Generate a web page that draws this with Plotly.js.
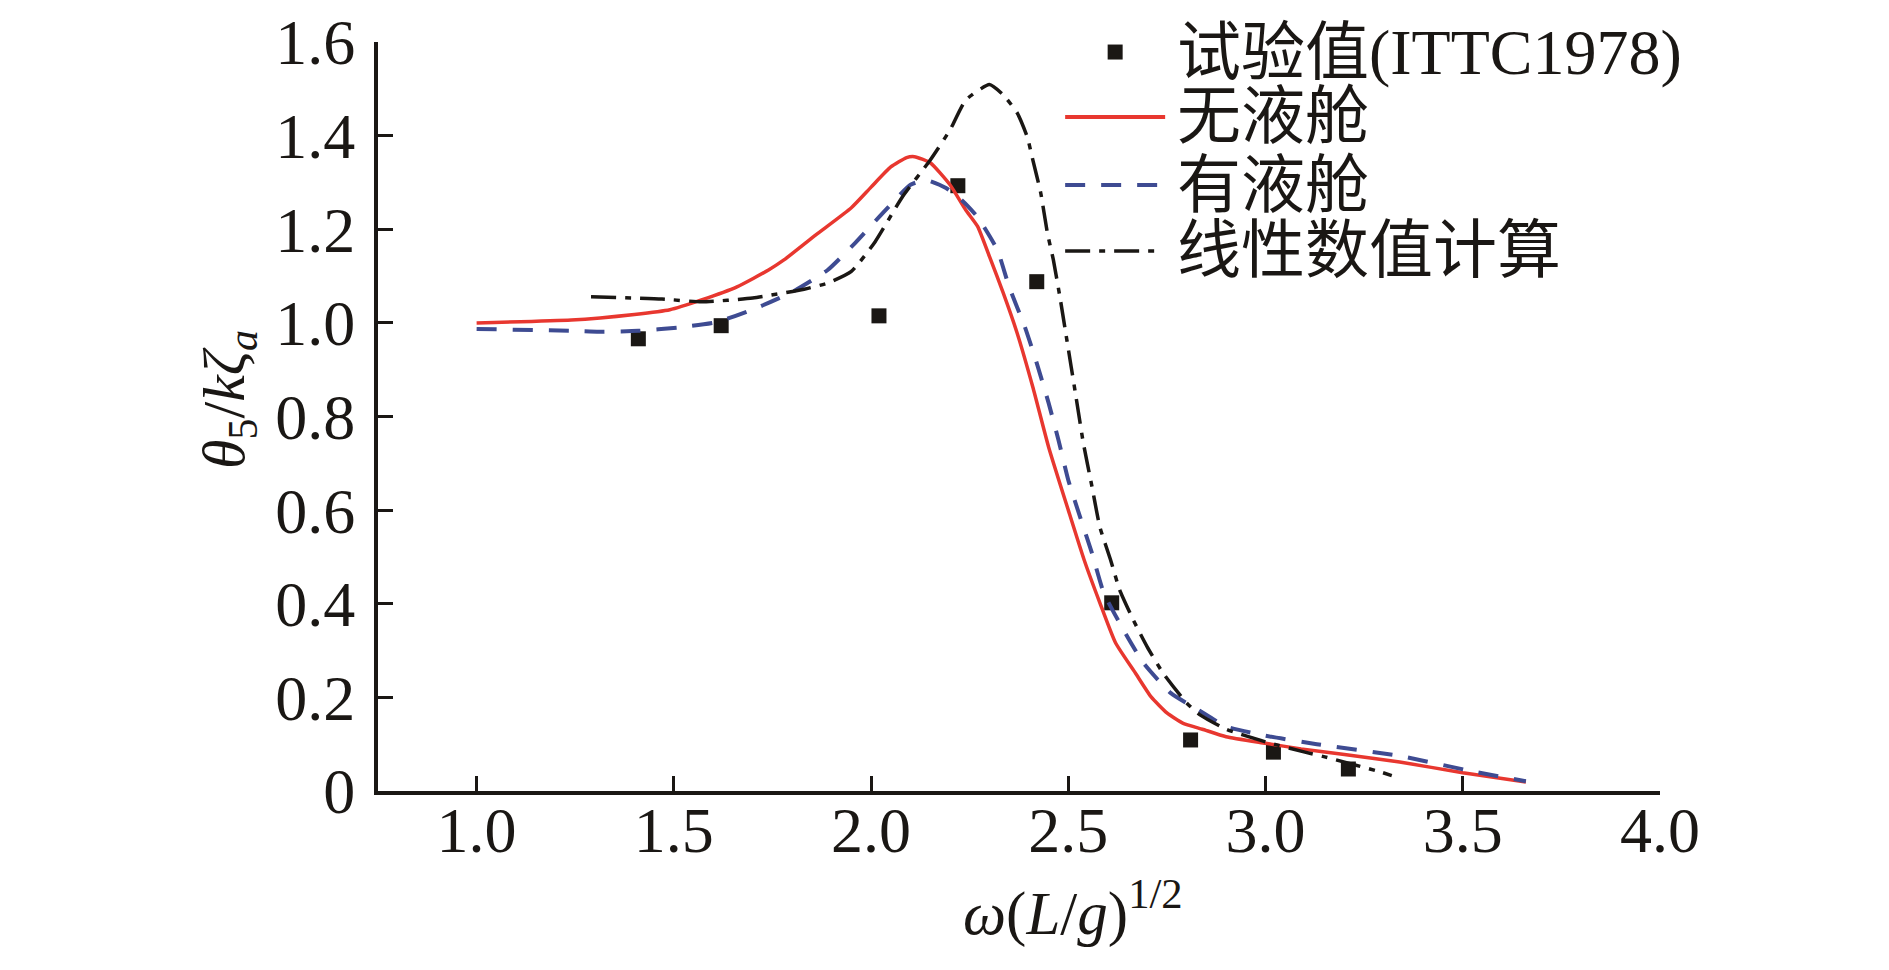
<!DOCTYPE html>
<html>
<head>
<meta charset="utf-8">
<script src="https://cdn.plot.ly/plotly-3.0.1.min.js"></script>
<style>
html,body{margin:0;padding:0;background:#fff;}
#chart{width:1889px;height:970px;}
</style>
</head>
<body>
<div id="chart"></div>
<script>
// ---- data ----
var seriesNames = ["试验值(ITTC1978)", "无液舱", "有液舱", "线性数值计算"];

var expX = [1.41, 1.62, 2.02, 2.22, 2.42, 2.61, 2.81, 3.02, 3.21];
var expY = [0.966, 0.994, 1.015, 1.293, 1.088, 0.402, 0.109, 0.083, 0.047];

var noTankX = [1.00, 1.24, 1.40, 1.49, 1.57, 1.66, 1.74, 1.78, 1.86, 1.95, 2.00, 2.05, 2.09, 2.11, 2.15, 2.20, 2.24, 2.27, 2.30, 2.335, 2.37, 2.41, 2.45, 2.50, 2.54, 2.58, 2.62, 2.67, 2.71, 2.75, 2.79, 2.84, 2.90, 3.00, 3.09, 3.20, 3.34, 3.50, 3.66];
var noTankY = [1.000, 1.006, 1.018, 1.028, 1.049, 1.077, 1.113, 1.135, 1.188, 1.246, 1.290, 1.333, 1.353, 1.355, 1.342, 1.295, 1.241, 1.206, 1.142, 1.064, 0.979, 0.863, 0.735, 0.600, 0.494, 0.402, 0.316, 0.252, 0.201, 0.167, 0.145, 0.132, 0.116, 0.102, 0.090, 0.078, 0.062, 0.039, 0.019];

var tankX = [1.00, 1.24, 1.31, 1.41, 1.51, 1.61, 1.71, 1.80, 1.89, 1.96, 2.03, 2.10, 2.14, 2.19, 2.23, 2.27, 2.32, 2.35, 2.39, 2.42, 2.45, 2.475, 2.50, 2.53, 2.56, 2.59, 2.64, 2.69, 2.76, 2.83, 2.90, 3.00, 3.13, 3.34, 3.53, 3.66];
var tankY = [0.987, 0.983, 0.981, 0.983, 0.990, 1.002, 1.032, 1.066, 1.113, 1.171, 1.235, 1.295, 1.305, 1.288, 1.262, 1.226, 1.156, 1.077, 0.991, 0.914, 0.829, 0.750, 0.664, 0.585, 0.508, 0.423, 0.344, 0.274, 0.209, 0.173, 0.138, 0.118, 0.100, 0.075, 0.041, 0.021];

var linX = [1.29, 1.47, 1.57, 1.70, 1.83, 1.89, 1.95, 2.01, 2.08, 2.15, 2.20, 2.24, 2.30, 2.335, 2.37, 2.396, 2.41, 2.43, 2.447, 2.462, 2.48, 2.497, 2.518, 2.538, 2.56, 2.58, 2.607, 2.63, 2.665, 2.70, 2.74, 2.80, 2.835, 2.90, 3.00, 3.10, 3.15, 3.29, 3.32];
var linY = [1.056, 1.051, 1.045, 1.053, 1.072, 1.085, 1.110, 1.173, 1.270, 1.348, 1.412, 1.476, 1.509, 1.487, 1.449, 1.397, 1.348, 1.278, 1.192, 1.135, 1.049, 0.960, 0.850, 0.744, 0.650, 0.564, 0.494, 0.430, 0.365, 0.308, 0.252, 0.188, 0.162, 0.132, 0.105, 0.083, 0.073, 0.041, 0.033];

var xTickVals = [1.0, 1.5, 2.0, 2.5, 3.0, 3.5, 4.0];
var xTickText = ["1.0", "1.5", "2.0", "2.5", "3.0", "3.5", "4.0"];
var yTickVals = [0, 0.2, 0.4, 0.6, 0.8, 1.0, 1.2, 1.4, 1.6];
var yTickText = ["0", "0.2", "0.4", "0.6", "0.8", "1.0", "1.2", "1.4", "1.6"];

// ---- styles ----
var INK = "#1a1714";
var RED = "#e8372f";
var BLUE = "#3e4b92";
var SERIF = "Liberation Serif, 'Times New Roman', serif";
var MIXED = "Liberation Serif, 'Noto Sans CJK SC', serif";
var DASH_BLUE = "20px,16px";
var DASH_BLACK = "25px,9px,6px,9px";

var traces = [
  {x: expX, y: expY, name: seriesNames[0], mode: "markers", type: "scatter",
   marker: {symbol: "square", size: 15, color: INK, line: {width: 0}}},
  {x: noTankX, y: noTankY, name: seriesNames[1], mode: "lines", type: "scatter",
   line: {color: RED, width: 3.5, shape: "spline", smoothing: 0.5}},
  {x: tankX, y: tankY, name: seriesNames[2], mode: "lines", type: "scatter",
   line: {color: BLUE, width: 4, dash: DASH_BLUE, shape: "spline", smoothing: 0.5}},
  {x: linX, y: linY, name: seriesNames[3], mode: "lines", type: "scatter",
   line: {color: INK, width: 3.5, dash: DASH_BLACK, shape: "spline", smoothing: 0.5}}
];

// custom legend (layout only)
var legX0 = 0.536, legX1 = 0.614, legMarkX = 0.575, legTextX = 0.622;
var legRows = [0.9866, 0.900, 0.809, 0.721];
var shapes = [
  {type: "rect", xref: "paper", yref: "paper", xsizemode: "pixel", ysizemode: "pixel",
   xanchor: legMarkX, yanchor: legRows[0], x0: -7.5, x1: 7.5, y0: -7.5, y1: 7.5,
   fillcolor: INK, line: {width: 0}},
  {type: "line", xref: "paper", yref: "paper", x0: legX0, x1: legX1, y0: legRows[1], y1: legRows[1],
   line: {color: RED, width: 4}},
  {type: "line", xref: "paper", yref: "paper", x0: legX0, x1: legX1, y0: legRows[2], y1: legRows[2],
   line: {color: BLUE, width: 4, dash: DASH_BLUE}},
  {type: "line", xref: "paper", yref: "paper", x0: legX0, x1: legX1 - 0.008, y0: legRows[3], y1: legRows[3],
   line: {color: INK, width: 3.5, dash: DASH_BLACK}}
];
var annotations = seriesNames.map(function (n, i) {
  return {text: n, xref: "paper", yref: "paper", x: legTextX, y: legRows[i],
          xanchor: "left", yanchor: "middle", showarrow: false,
          font: {family: MIXED, size: 64, color: INK}};
});
annotations.push({
  text: "<i>ω</i>(<i>L</i>/<i>g</i>)<sup>1/2</sup>", xref: "paper", yref: "paper",
  x: 0.542, y: -0.158, xanchor: "center", yanchor: "middle", showarrow: false,
  font: {family: SERIF, size: 61, color: INK}
});
annotations.push({
  text: "<i>θ</i><sub>5</sub>/<i>kζ</i><sub><i>a</i></sub>", xref: "paper", yref: "paper",
  x: -0.117, y: 0.522, xanchor: "center", yanchor: "middle", textangle: -90, showarrow: false,
  font: {family: SERIF, size: 60, color: INK}
});

var layout = {
  width: 1889, height: 970,
  margin: {l: 378, r: 229, t: 42, b: 179},
  paper_bgcolor: "#ffffff", plot_bgcolor: "#ffffff",
  showlegend: false,
  font: {family: SERIF, color: INK, size: 64},
  xaxis: {
    range: [0.75, 4.0], tickmode: "array", tickvals: xTickVals, ticktext: xTickText,
    ticks: "inside", ticklen: 15, tickwidth: 3, tickcolor: INK,
    showline: true, linewidth: 4, linecolor: INK, showgrid: false, zeroline: false,
    tickfont: {family: SERIF, size: 64, color: INK}, ticklabelstandoff: -20
  },
  yaxis: {
    range: [0, 1.6], tickmode: "array", tickvals: yTickVals, ticktext: yTickText,
    ticks: "inside", ticklen: 15, tickwidth: 3, tickcolor: INK,
    showline: true, linewidth: 4, linecolor: INK, showgrid: false, zeroline: false,
    tickfont: {family: SERIF, size: 64, color: INK}, ticklabelstandoff: 6
  },
  shapes: shapes,
  annotations: annotations
};

Plotly.newPlot("chart", traces, layout, {displayModeBar: false, staticPlot: true});
</script>
</body>
</html>
